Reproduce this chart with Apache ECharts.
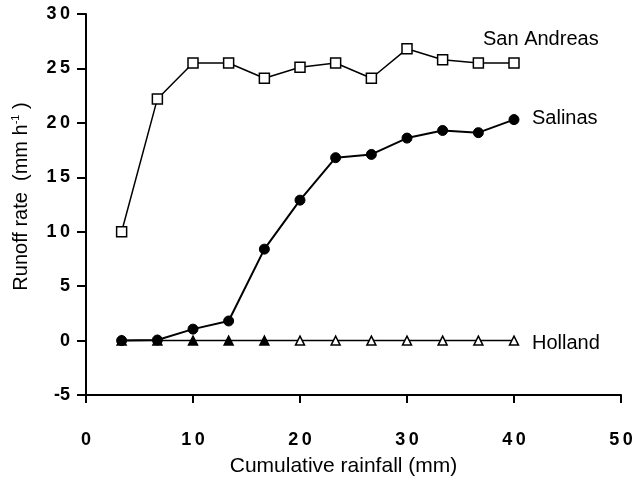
<!DOCTYPE html>
<html><head><meta charset="utf-8">
<script src="https://cdn.jsdelivr.net/npm/echarts@6/dist/echarts.min.js"></script>
<style>html,body{margin:0;padding:0;background:#fff}#c{width:636px;height:493px}</style>
</head><body><div id="c"></div>
<script>
const rainfall = [3.33, 6.67, 10, 13.33, 16.67, 20, 23.33, 26.67, 30, 33.33, 36.67, 40];
const sanAndreas = [10, 22.2, 25.5, 25.5, 24.1, 25.1, 25.5, 24.1, 26.8, 25.8, 25.5, 25.5];
const salinas = [0, 0.05, 1.05, 1.8, 8.4, 12.9, 16.8, 17.1, 18.6, 19.3, 19.1, 20.3];
const holland = [0, 0, 0, 0, 0, 0, 0, 0, 0, 0, 0, 0];
const xTicks = [0, 10, 20, 30, 40, 50];
const yTicks = [-5, 0, 5, 10, 15, 20, 25, 30];

const font = '"Liberation Sans", Arial, Helvetica, sans-serif';
const chart = echarts.init(document.getElementById('c'), null, {renderer: 'canvas'});
const pair = (vals) => rainfall.map((x, i) => [x, vals[i]]);
const spaced = v => String(v).replace('-', '\u2212').split('').join('\u2009').replace('\u2212\u2009', '-');

chart.setOption({
  animation: false,
  backgroundColor: '#fff',
  grid: {left: 86, right: 15, top: 14, bottom: 98, containLabel: false},
  xAxis: {
    type: 'value', min: xTicks[0], max: xTicks[xTicks.length - 1], interval: 10,
    splitLine: {show: false},
    axisLine: {onZero: false, lineStyle: {color: '#000', width: 2}},
    axisTick: {show: true, inside: false, length: 8, lineStyle: {color: '#000', width: 2}},
    axisLabel: {color: '#000', fontFamily: font, fontSize: 18, fontWeight: 'bold', margin: 36, formatter: spaced},
    name: 'Cumulative rainfall (mm)', nameLocation: 'middle', nameGap: 61,
    nameTextStyle: {color: '#000', fontFamily: font, fontSize: 21, padding: [0, 20, 0, 0]}
  },
  yAxis: {
    type: 'value', min: yTicks[0], max: yTicks[yTicks.length - 1], interval: 5,
    splitLine: {show: false},
    axisLine: {onZero: false, lineStyle: {color: '#000', width: 2}},
    axisTick: {show: true, inside: false, length: 9, lineStyle: {color: '#000', width: 2}},
    axisLabel: {color: '#000', fontFamily: font, fontSize: 18, fontWeight: 'bold', margin: 16, formatter: spaced},
    name: '{a|Runoff rate  (mm h}{s|-1}{a| )}', nameLocation: 'middle', nameGap: 53,
    nameTextStyle: {color: '#000', fontFamily: font, fontSize: 20, padding: [0, 0, 0, 16],
      rich: {a: {fontFamily: font, fontSize: 20, color: '#000'},
             s: {fontFamily: font, fontSize: 11, color: '#000', verticalAlign: 'top', padding: [0, 0, 12, 0]}}}
  },
  series: [
    {
      name: 'Holland', type: 'line', z: 2,
      data: pair(holland).map((d, i) => ({value: d, itemStyle: {color: i < 5 ? '#000' : '#fff', borderColor: '#000', borderWidth: 1.5}})),
      symbol: 'triangle', symbolSize: 9,
      lineStyle: {color: '#000', width: 1.5},
      endLabel: {show: true, formatter: 'Holland', color: '#000', fontFamily: font, fontSize: 20, offset: [10, 3]}
    },
    {
      name: 'Salinas', type: 'line', z: 3,
      data: pair(salinas),
      symbol: 'circle', symbolSize: 10,
      itemStyle: {color: '#000', borderColor: '#000'},
      lineStyle: {color: '#000', width: 2},
      endLabel: {show: true, formatter: 'Salinas', color: '#000', fontFamily: font, fontSize: 20, offset: [10, -1]}
    },
    {
      name: 'San Andreas', type: 'line', z: 4,
      data: pair(sanAndreas),
      symbol: 'rect', symbolSize: 10,
      itemStyle: {color: '#fff', borderColor: '#000', borderWidth: 1.5},
      lineStyle: {color: '#000', width: 1.5},
      endLabel: {show: true, formatter: 'San Andreas', color: '#000', fontFamily: font, fontSize: 20, offset: [-39, -24]}
    }
  ]
});
</script></body></html>
